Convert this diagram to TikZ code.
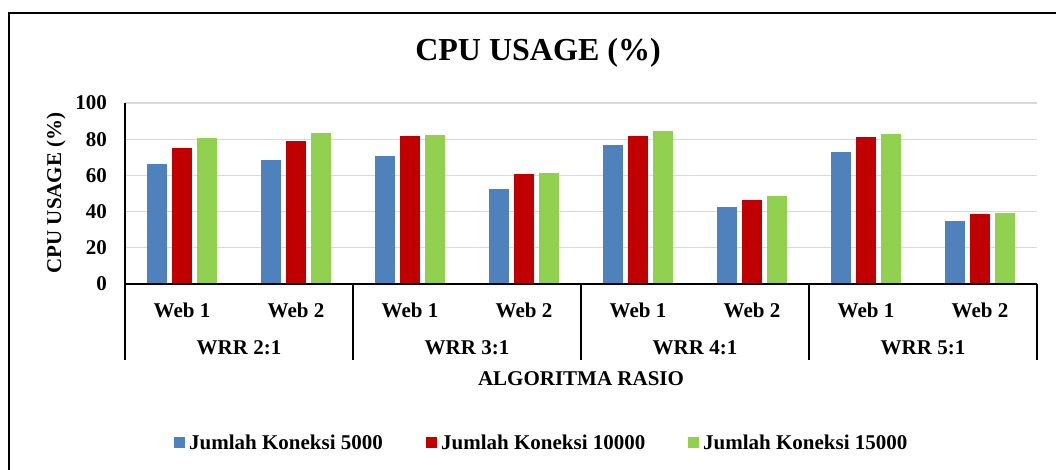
\documentclass[tikz,border=0pt]{standalone}
\usepackage{fontspec}
\setmainfont{Liberation Serif}
\definecolor{webblue}{HTML}{4F81BD}
\definecolor{webred}{HTML}{C00000}
\definecolor{webgreen}{HTML}{92D050}
\definecolor{gridgray}{HTML}{D9D9D9}
\tikzset{
  lbl/.style={font=\fontsize{21}{25}\selectfont\bfseries,inner sep=0pt},
  gridline/.style={gridgray,line width=1.3pt},
  axisline/.style={black,line width=1.4pt}
}
\begin{document}
\begin{tikzpicture}[x=1pt,y=-1pt]
    \useasboundingbox (0,0) rectangle (1056,470);
    % frame of the chart (cut at right and bottom)
    \draw[line width=1.6pt] (9,470)--(9,13)--(1056,13);
    \node[lbl,font=\fontsize{32}{36}\selectfont\bfseries] (title) at (538,53) {CPU USAGE (\%)};
    % grid and ticks
    \foreach \v in {20,40,...,100}
        \draw[gridline] (125,{284-1.81*\v})--(1037,{284-1.81*\v});
    \foreach \v in {0,20,...,100}
        \node[lbl,anchor=east] (tick\v) at (107,{284-1.81*\v}) {\v};
    \node[lbl,rotate=90] (ytitle) at (56,193) {CPU USAGE (\%)};
    % bars
    \foreach \c/\a/\b/\g in {1/66.3/75/80.8,2/68.5/79.2/83.6,3/70.7/81.8/82.3,4/52.3/60.6/61.3,
                             5/76.6/81.9/84.5,6/42.7/46.2/48.6,7/72.8/81.4/82.7,8/35/38.7/39.1}{
        \fill[webblue] ({68+114*\c-34.95},284) rectangle ++(19.5,{-1.81*\a});
        \fill[webred] ({68+114*\c-9.75},284) rectangle ++(19.5,{-1.81*\b});
        \fill[webgreen] ({68+114*\c+15.45},284) rectangle ++(19.5,{-1.81*\g});
    }
    % axes
    \draw[axisline] (125,103)--(125,360);
    \draw[axisline] (125,284)--(1037,284);
    \foreach \k in {1,...,4}
        \draw[axisline] ({125+228*\k},284)--({125+228*\k},360);
    \foreach \k/\r in {0/2,1/3,2/4,3/5}{
        \node[lbl] (weba\k) at ({182+228*\k},310) {Web 1};
        \node[lbl] (webb\k) at ({296+228*\k},310) {Web 2};
        \node[lbl] (wrr\k) at ({239+228*\k},348) {WRR \r:1};
    }
    \node[lbl] (xtitle) at (581,379) {ALGORITMA RASIO};
    % legend
    \fill[webblue] (174,437) rectangle (185,448);
    \node[lbl,anchor=west] (leg1) at (189,442) {Jumlah Koneksi 5000};
    \fill[webred] (426,437) rectangle (437,448);
    \node[lbl,anchor=west] (leg2) at (441,442) {Jumlah Koneksi 10000};
    \fill[webgreen] (688,437) rectangle (699,448);
    \node[lbl,anchor=west] (leg3) at (703,442) {Jumlah Koneksi 15000};
\end{tikzpicture}
\end{document}
